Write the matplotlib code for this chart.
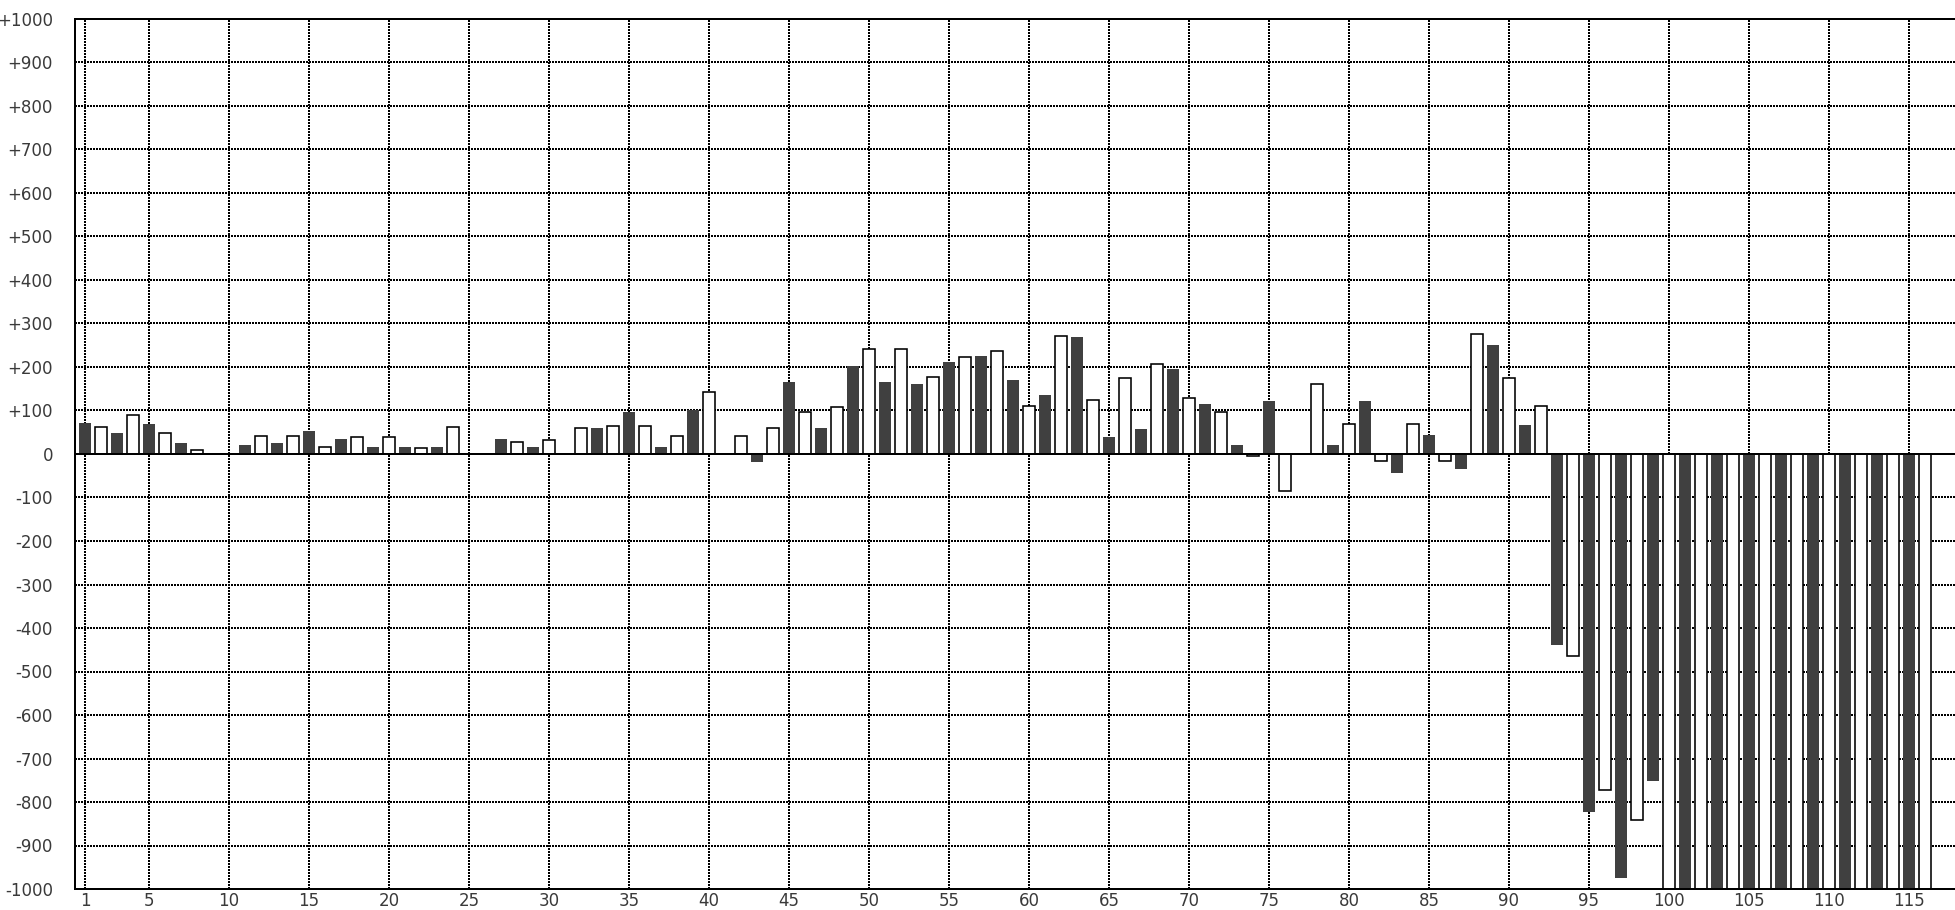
import matplotlib
matplotlib.use("Agg")
import matplotlib.pyplot as plt
import numpy as np

# Data: bar index and value (odd positions = dark series, even = white series)
positions = list(range(1, 117))
values = [
    72, 62, 49, 89, 69, 48, 25, 9, 0, 0,
    20, 42, 25, 42, 52, 15, 34, 38, 15, 38,
    15, 14, 15, 61, 0, 0, 34, 28, 15, 32,
    0, 59, 60, 64, 97, 64, 15, 41, 102, 142,
    0, 41, -18, 59, 166, 96, 60, 109, 202, 242,
    166, 242, 161, 178, 211, 224, 225, 237, 171, 110,
    135, 272, 268, 124, 38, 175, 57, 207, 195, 129,
    116, 97, 20, -5, 121, -84, 0, 161, 20, 69,
    121, -15, -44, 69, 43, -15, -35, 276, 250, 175,
    66, 110, -438, -464, -824, -773, -975, -841, -751, -1000,
    -1000, -1000, -1000, -1000, -1000, -1000, -1000, -1000, -1000, -1000,
    -1000, -1000, -1000, -1000, -1000, -1000,
]
x_ticks = [1] + list(range(5, 120, 5))
y_ticks = list(range(-1000, 1001, 100))
y_labels = [("+%d" % v) if v > 0 else ("%d" % v) for v in y_ticks]

DPI = 100
fig = plt.figure(figsize=(19.56, 9.10), dpi=DPI)
px = 72.0 / DPI  # points per pixel

ax = fig.add_axes([75 / 1956, 21 / 910, 1 - 75 / 1956, 870 / 910])

pos = np.array(positions)
val = np.array(values, dtype=float)
dark = pos % 2 == 1
white = ~dark

ax.bar(pos[dark], val[dark], width=0.75, color="#404040", linewidth=0, zorder=3)
ax.bar(pos[white], val[white], width=0.75, facecolor="white", edgecolor="black",
       linewidth=1.6 * px, zorder=3)

ax.axhline(0, color="black", linewidth=2 * px, zorder=5)

ax.set_xlim(0.375, 117.94)
ax.set_ylim(-1000, 1000)
ax.set_xticks(x_ticks)
ax.set_xticklabels([str(t) for t in x_ticks])
ax.set_yticks(y_ticks)
ax.set_yticklabels(y_labels)

ax.grid(True, color="black", linestyle=(0, (1, 1)), linewidth=2 * px, zorder=1,
        antialiased=False)
ax.set_axisbelow(True)

ax.tick_params(axis="both", length=0, labelsize=12, labelcolor="#3a3a3a")
ax.tick_params(axis="y", pad=22 * px)
ax.tick_params(axis="x", pad=3 * px)

for side in ["left", "top", "bottom"]:
    ax.spines[side].set_linewidth(2 * px)
    ax.spines[side].set_color("black")
    ax.spines[side].set_zorder(6)
ax.spines["right"].set_visible(False)

fig.savefig("out.png", dpi=DPI)
